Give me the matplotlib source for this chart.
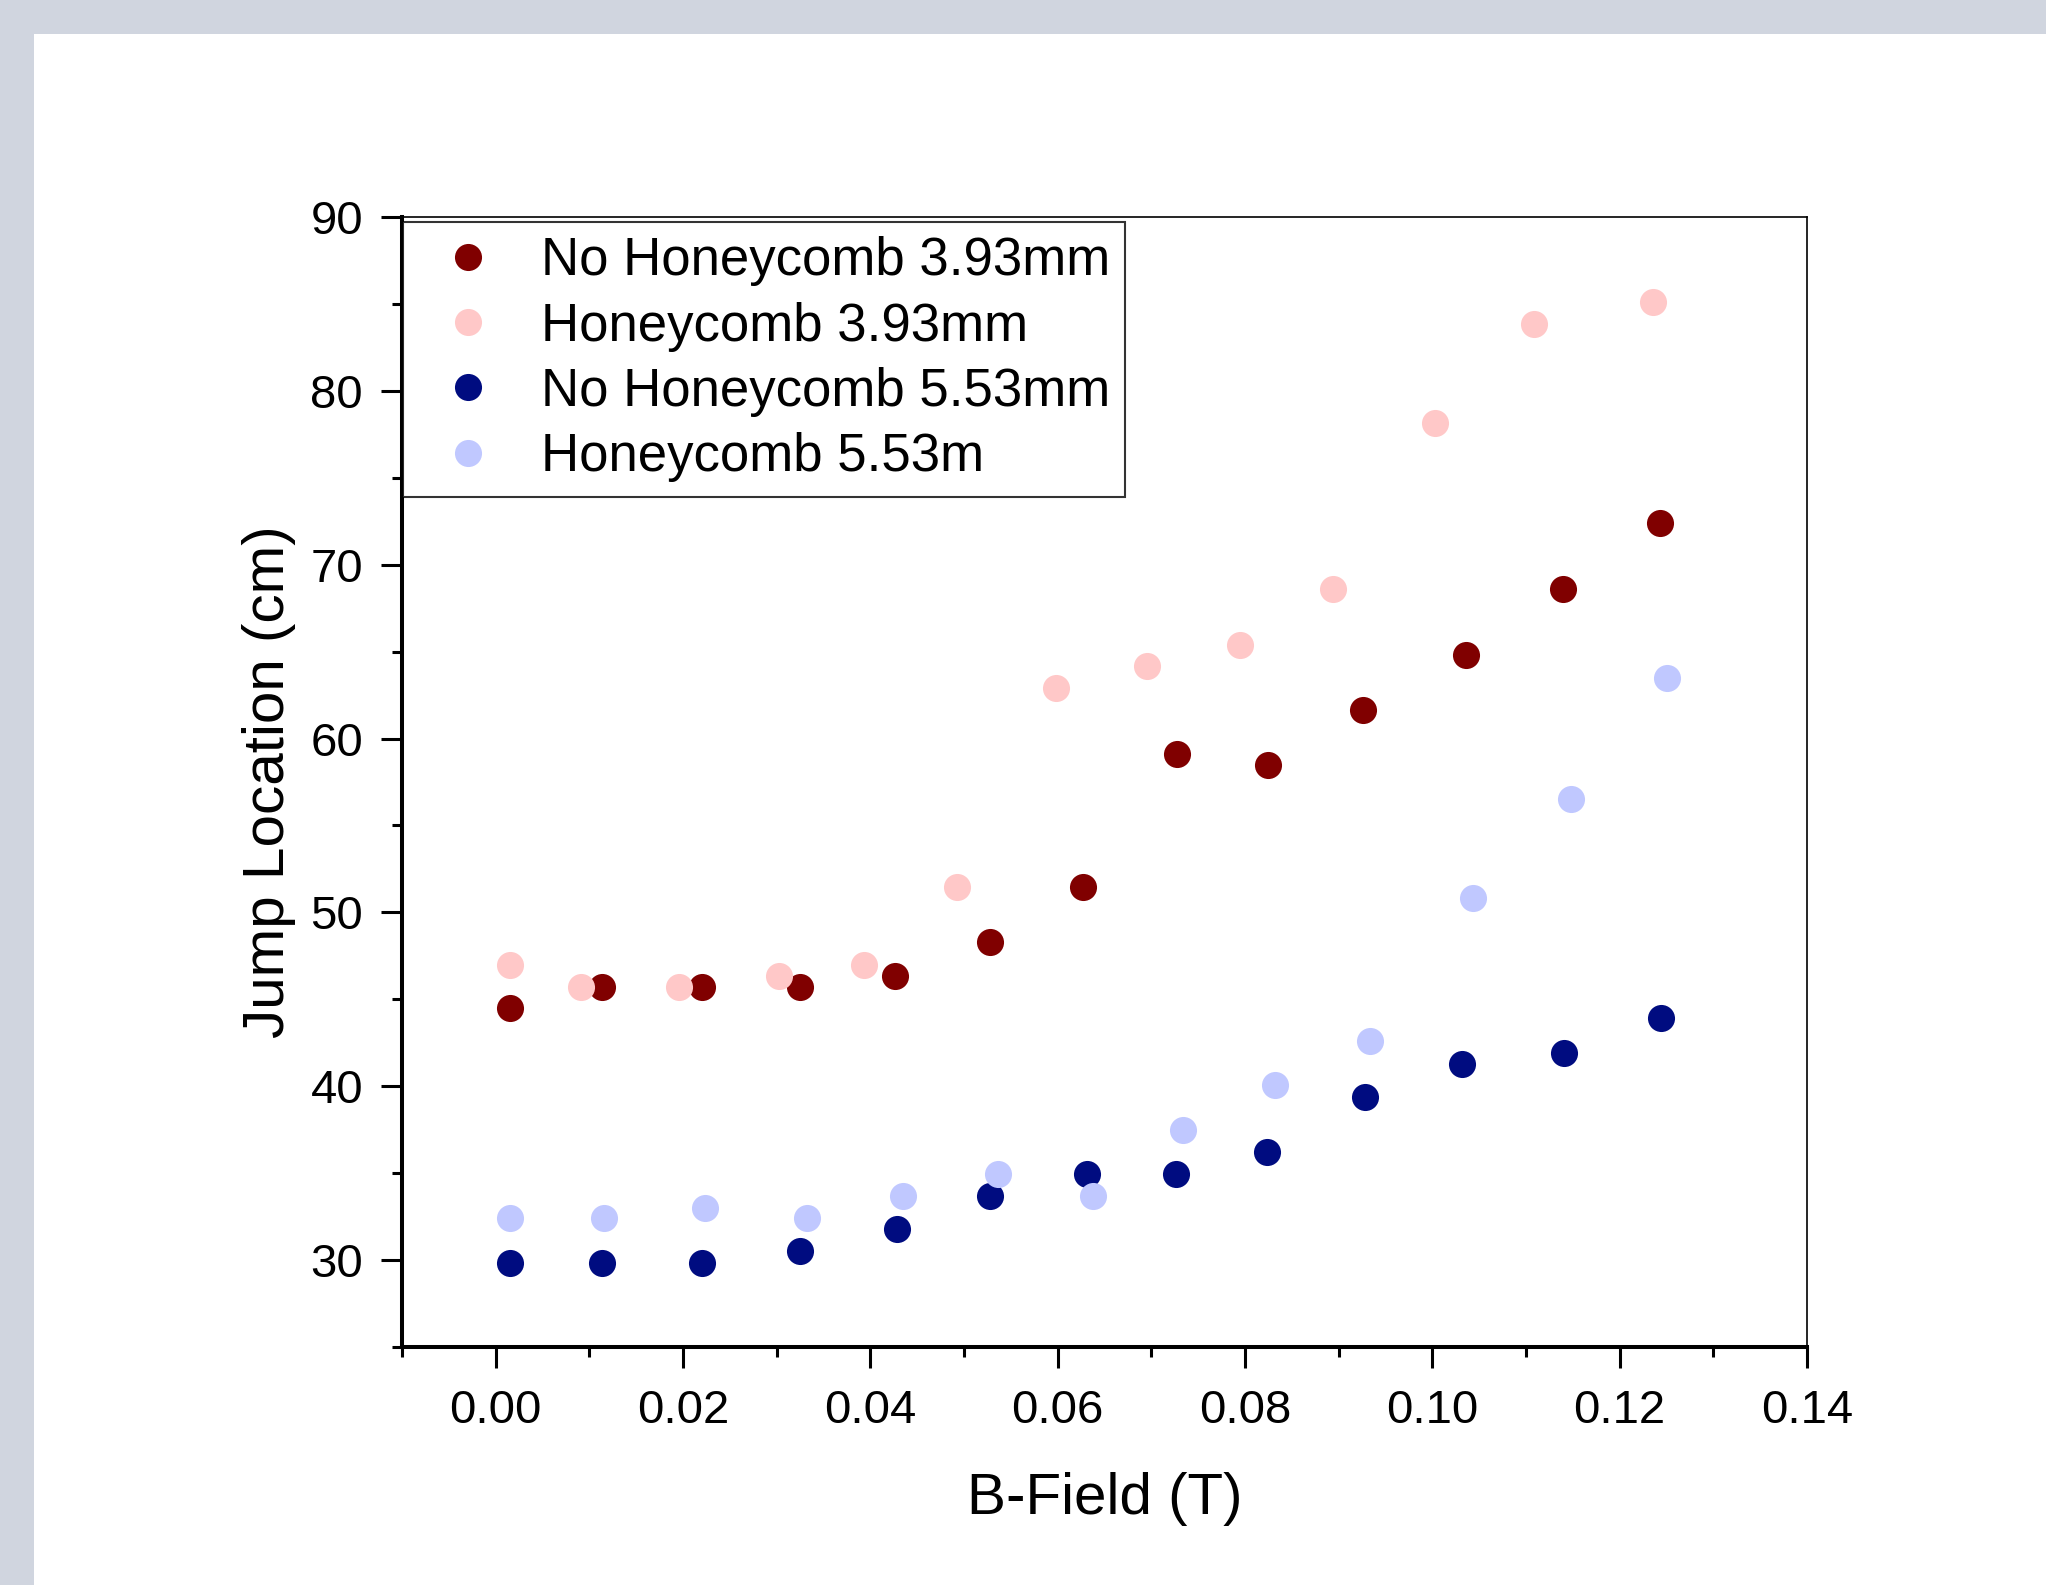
import matplotlib
matplotlib.use("Agg")
import matplotlib.pyplot as plt
from matplotlib.patches import Rectangle
from matplotlib.ticker import MultipleLocator

plt.rcParams['font.family'] = ['Liberation Sans', 'DejaVu Sans']

# Data
x_nh393 = [0.0015, 0.0113, 0.0220, 0.0325, 0.0426, 0.0528, 0.0627, 0.0727, 0.0825, 0.0926, 0.1036, 0.1140, 0.1243]
y_nh393 = [44.5, 45.7, 45.7, 45.7, 46.35, 48.3, 51.45, 59.1, 58.5, 61.65, 64.8, 68.6, 72.4]

x_h393 = [0.0015, 0.0091, 0.0196, 0.0302, 0.0393, 0.0493, 0.0598, 0.0695, 0.0795, 0.0894, 0.1003, 0.1109, 0.1236]
y_h393 = [47.0, 45.7, 45.7, 46.35, 47.0, 51.45, 62.9, 64.2, 65.4, 68.6, 78.15, 83.85, 85.1]

x_nh553 = [0.0015, 0.0113, 0.0220, 0.0325, 0.0428, 0.0528, 0.0631, 0.0726, 0.0823, 0.0928, 0.1032, 0.1141, 0.1244]
y_nh553 = [29.85, 29.85, 29.85, 30.5, 31.8, 33.7, 34.95, 34.95, 36.2, 39.4, 41.3, 41.9, 43.9]

x_h553 = [0.0015, 0.0116, 0.0224, 0.0332, 0.0435, 0.0536, 0.0638, 0.0734, 0.0832, 0.0933, 0.1043, 0.1148, 0.1251]
y_h553 = [32.4, 32.4, 33.0, 32.4, 33.7, 34.95, 33.7, 37.5, 40.05, 42.6, 50.8, 56.55, 63.5]

labels = ["No Honeycomb 3.93mm", "Honeycomb 3.93mm", "No Honeycomb 5.53mm", "Honeycomb 5.53m"]
colors = ["#800000", "#FFC8C8", "#000C80", "#C0C8FF"]

W, H = 2046, 1585
fig = plt.figure(figsize=(W / 100, H / 100), dpi=100)
fig.patch.set_facecolor("white")
# gray frame strips (top and left)
fig.patches.append(Rectangle((0, 1 - 34 / H), 1, 34 / H, transform=fig.transFigure,
                             facecolor="#D0D5DF", edgecolor="none", zorder=0))
fig.patches.append(Rectangle((0, 0), 34 / W, 1, transform=fig.transFigure,
                             facecolor="#D0D5DF", edgecolor="none", zorder=0))

left, right = 402 / W, 1807 / W
bottom, top = 1 - 1347 / H, 1 - 217 / H
ax = fig.add_axes([left, bottom, right - left, top - bottom])

ms = 19.5
for xs, ys, c, lab in zip([x_nh393, x_h393, x_nh553, x_h553],
                          [y_nh393, y_h393, y_nh553, y_h553], colors, labels):
    ax.plot(xs, ys, 'o', color=c, markersize=ms, markeredgewidth=0, label=lab, linestyle='none')

ax.set_xlim(-0.01, 0.14)
ax.set_ylim(25, 90)
ax.xaxis.set_major_locator(MultipleLocator(0.02))
ax.xaxis.set_minor_locator(MultipleLocator(0.01))
ax.yaxis.set_major_locator(MultipleLocator(10))
ax.yaxis.set_minor_locator(MultipleLocator(5))
ax.xaxis.set_major_formatter(matplotlib.ticker.FormatStrFormatter('%.2f'))

for s in ['bottom', 'left']:
    ax.spines[s].set_linewidth(2.9)
for s in ['top', 'right']:
    ax.spines[s].set_linewidth(1.2)

ax.tick_params(axis='both', which='major', direction='out', length=15, width=2.2,
               labelsize=34, top=False, right=False)
ax.tick_params(axis='both', which='minor', direction='out', length=7.5, width=2.2,
               top=False, right=False)
ax.tick_params(axis='x', which='major', pad=15)
ax.tick_params(axis='y', which='major', pad=13)

ax.set_xlabel("B-Field (T)", fontsize=42, labelpad=28)
ax.set_ylabel("Jump Location (cm)", fontsize=42, labelpad=10)

leg = ax.legend(loc='upper left', bbox_to_anchor=(0.001, 0.996), borderaxespad=0,
                fontsize=38, frameon=True, fancybox=False, edgecolor='black',
                labelspacing=0.29, handletextpad=0.42, handlelength=1.9,
                borderpad=0.28, markerscale=1.0)
leg.get_frame().set_linewidth(1.5)

fig.savefig("out.png", dpi=100, facecolor=fig.get_facecolor())
